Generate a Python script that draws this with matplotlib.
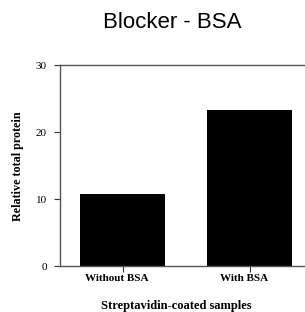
import matplotlib.pyplot as plt
from matplotlib.transforms import ScaledTranslation

categories = ["Without BSA", "With BSA"]
values = [10.8, 23.4]
yticks = [0, 10, 20, 30]

fig = plt.figure(figsize=(3.05, 3.12), dpi=100)
ax = fig.add_axes([59.5 / 305, 1 - 266 / 312, (313 - 59.5) / 305, (266 - 65.5) / 312])

x = range(len(categories))
ax.bar(x, values, width=0.67, color="black")
ax.set_xlim(-0.5, 1.5)
ax.set_ylim(0, 30)
ax.set_yticks(yticks)
ax.set_xticks(x)
ax.set_xticklabels([])
# category labels sit slightly left of their ticks in the original
shift = ScaledTranslation(-6 / 100, -8 / 100, fig.dpi_scale_trans)
for i, cat in zip(x, categories):
    ax.text(i, 0, cat, transform=ax.get_xaxis_transform() + shift,
            ha="center", va="top", fontfamily="Liberation Serif", fontweight="bold", fontsize=8)
for lab in ax.get_yticklabels():
    lab.set_fontfamily("Liberation Serif")
    lab.set_fontsize(8)
ax.tick_params(axis="both", length=4, width=0.8, color="#333333")
ax.tick_params(axis="y", pad=5)
for s in ax.spines.values():
    s.set_color("#555555")
    s.set_linewidth(1.0)

ax.set_ylabel("Relative total protein", fontfamily="Liberation Serif", fontweight="bold", fontsize=8.7)
ax.yaxis.set_label_coords(-36 / 253.5, 0.5)
ax.set_xlabel("Streptavidin-coated samples", fontfamily="Liberation Serif", fontweight="bold", fontsize=9)
ax.xaxis.set_label_coords((176 - 59.5) / 253.5, -34 / 200.5)

fig.text(172 / 305, 1 - 22 / 312, "Blocker - BSA", fontfamily="Liberation Sans", fontsize=16,
         ha="center", va="center")

fig.savefig("out.png", dpi=100)
